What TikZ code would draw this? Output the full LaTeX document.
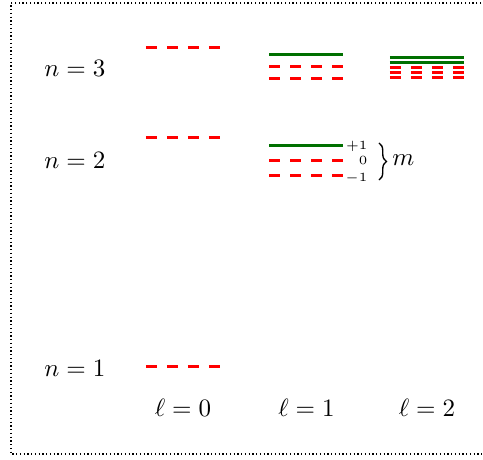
\documentclass[tikz,border=0pt]{standalone}
\usetikzlibrary{decorations.pathreplacing}
\definecolor{lvlgreen}{RGB}{0,112,0}
\tikzset{
  lvlred/.style={draw=red, line width=1.2pt, dash pattern=on 4.4pt off 4.0pt},
  lvlgr/.style={draw=lvlgreen, line width=1.2pt},
  mlab/.style={font=\tiny, anchor=base east, inner sep=0pt},
  nlab/.style={anchor=base west, inner sep=0pt},
  llab/.style={anchor=base, inner sep=0pt},
  frame/.style={dash pattern=on 0.5pt off 1pt, line width=0.55pt}
}
\begin{document}
\begin{tikzpicture}[x=0.4pt, y=-0.4pt]
\useasboundingbox (0,0) rectangle (483,460);
\draw[frame] (500,3) -- (11,3) -- (11,454) -- (500,454);
% n labels
\node[nlab] (n3) at (44,76.7) {$n=3$};
\node[nlab] (n2) at (44,169) {$n=2$};
\node[nlab] (n1) at (44,376.5) {$n=1$};
% l labels
\node[llab] (l0) at (183,416.7) {$\ell=0$};
\node[llab] (l1) at (306.5,416.7) {$\ell=1$};
\node[llab] (l2) at (427,416.7) {$\ell=2$};
% l=0
\draw[lvlred] (146,48) -- (220,48);
\draw[lvlred] (146,137.5) -- (220,137.5);
\draw[lvlred] (146,367) -- (220,367);
% l=1, n=3
\draw[lvlgr] (269.5,55) -- (343.5,55);
\draw[lvlred] (269.5,67) -- (343.5,67);
\draw[lvlred] (269.5,79) -- (343.5,79);
% l=1, n=2
\draw[lvlgr] (269.5,146) -- (343.5,146);
\draw[lvlred] (269.5,161) -- (343.5,161);
\draw[lvlred] (269.5,175.5) -- (343.5,175.5);
% m labels
\node[mlab] (mp) at (368,149.5) {$+1$};
\node[mlab] (m0) at (368,165) {$0$};
\node[mlab] (mm) at (368,181.5) {$-1$};
\coordinate (bt) at (379,143);
\coordinate (bb) at (379,180);
\draw[line width=0.55pt, decorate, decoration={brace, amplitude=3pt}] (bt) -- (bb);
\node[anchor=base west, inner sep=0pt] (m) at (392,166) {$m$};
% l=2, n=3
\draw[lvlgr] (390,57.3) -- (464,57.3);
\draw[lvlgr] (390,62.3) -- (464,62.3);
\draw[lvlred] (390,67.3) -- (464,67.3);
\draw[lvlred] (390,72.3) -- (464,72.3);
\draw[lvlred] (390,77.3) -- (464,77.3);
\end{tikzpicture}
\end{document}
